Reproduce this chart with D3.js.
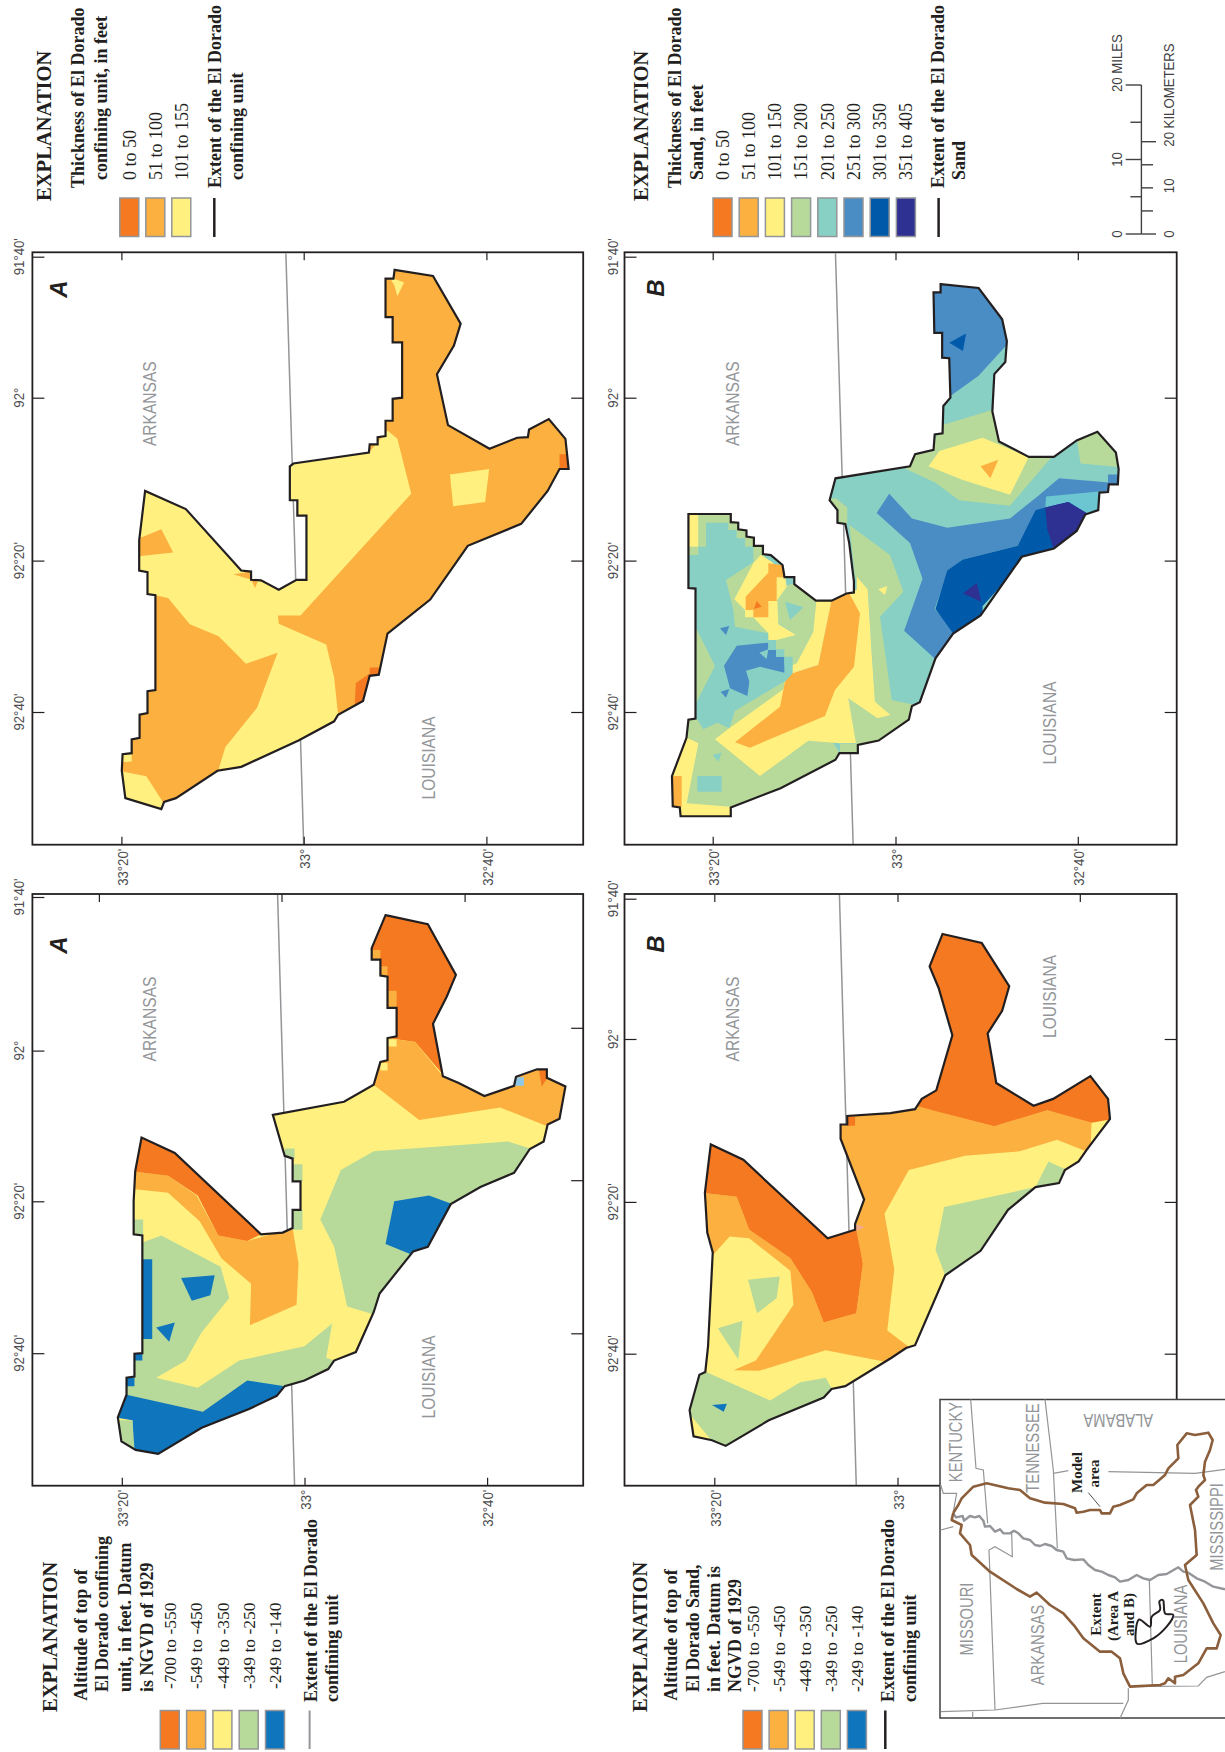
<!DOCTYPE html>
<html>
<head>
<meta charset="utf-8">
<title>El Dorado confining unit and sand</title>
<script src="https://cdn.jsdelivr.net/npm/d3@7"></script>
<style>
  body { margin: 0; background: #fff; }
  svg { display: block; }
  text { font-variant-ligatures: none; }
</style>
</head>
<body>
<div id="chart"></div>
<script>
/*Colour classes used by the legends and the maps*/
const cDarkOrange = "#f47920", cOrange = "#fbb040", cYellow = "#fff080", cGreen = "#b7da9b",
      cTeal = "#88cfc4", cBlue = "#4a8cc4", cNavy = "#005aa9", cIndigo = "#2e3092",
      cAltBlue = "#0f75bd", cCyan = "#6cc6d2", cSky = "#8dc8e8", cPink = "#f2ab8c";

/*Axis values, degrees*/
const latTicks = [33.3333, 33, 32.6667];
const lonTicks = [91.6667, 92, 92.3333, 92.6667];
const latLabels = ["33°20'", "33°", "32°40'"];
const lonLabels = ["91°40'", "92°", "92°20'", "92°40'"];

/*Legend text*/
const classesUnitThickness = ["0 to 50", "51 to 100", "101 to 155"];
const classesSandThickness = ["0 to 50", "51 to 100", "101 to 150", "151 to 200", "201 to 250", "251 to 300", "301 to 350", "351 to 405"];
const classesAltitude = ["-700 to -550", "-549 to -450", "-449 to -350", "-349 to -250", "-249 to -140"];
const milesTicks = [0, 5, 10, 15, 20];
const kmTicks = [0, 5, 10, 15, 20];

/*Map polygons, in sheet units (see sheets below)*/
const stateLineA = [[723,462],[768,1540]];
const unitOutline = [[998,492],[1095,503],[1165,590],[1148,630],[1105,682],[1133,775],[1238,818],[1308,798],[1335,797],[1338,783],[1388,764],[1430,800],[1438,855],[1415,855],[1385,895],[1318,955],[1183,995],[1088,1093],[980,1155],[958,1230],[935,1232],[918,1278],[855,1303],[845,1315],[755,1350],[610,1398],[550,1405],[445,1455],[415,1462],[408,1475],[317,1455],[308,1405],[310,1375],[333,1373],[333,1348],[353,1345],[353,1303],[373,1300],[373,1260],[393,1258],[393,1085],[373,1083],[373,1043],[352,1040],[352,985],[367,895],[470,928],[610,1040],[635,1042],[635,1057],[660,1058],[705,1075],[750,1057],[775,1057],[775,940],[752,940],[752,912],[733,912],[733,850],[742,845],[933,825],[935,810],[955,810],[955,797],[975,795],[975,767],[993,767],[993,727],[1017,725],[1017,624],[993,624],[993,578],[975,578],[975,508],[995,508]];
const unitYellowMain = [[367,895],[470,928],[610,1040],[660,1058],[705,1075],[750,1057],[775,1057],[775,940],[752,940],[752,912],[733,912],[733,850],[742,845],[933,825],[980,785],[1005,800],[1040,900],[760,1122],[703,1122],[705,1137],[825,1175],[845,1235],[855,1303],[845,1315],[755,1350],[610,1398],[553,1402],[570,1362],[650,1290],[702,1190],[622,1210],[553,1160],[480,1138],[425,1090],[393,1085],[373,1083],[373,1043],[340,1040],[340,1015],[438,1007],[408,965],[340,985]];
const unitOrangeNotch = [[590,1047],[635,1042],[635,1057],[652,1060],[645,1072],[635,1057]];
const unitYellowPatch = [[1138,865],[1237,855],[1227,915],[1146,923]];
const unitYellowCorner = [[300,1405],[370,1415],[412,1462],[408,1485],[310,1465]];
const unitYellowCell = [[305,1375],[333,1373],[333,1388],[305,1390]];
const unitYellowTip = [[985,505],[1022,515],[1005,540],[997,520]];
const unitThinCell1 = [[1415,828],[1445,828],[1445,860],[1415,860]];
const unitThinCell2 = [[900,1245],[935,1228],[925,1285],[897,1285]];
const unitThinCell3 = [[935,1217],[960,1217],[960,1232],[935,1232]];

const stateLineB = [[575,462],[620,1540]];
const sandOutline = [[843,518],[940,525],[1000,582],[1012,622],[1008,660],[980,682],[975,750],[992,805],[1068,833],[1132,833],[1190,803],[1243,787],[1290,825],[1297,855],[1295,883],[1272,883],[1270,897],[1248,898],[1245,930],[1212,938],[1190,968],[1132,1000],[1050,1015],[945,1122],[875,1155],[830,1200],[790,1280],[770,1287],[762,1312],[685,1350],[632,1358],[632,1373],[585,1373],[575,1385],[435,1437],[308,1472],[308,1488],[180,1488],[178,1472],[160,1470],[158,1415],[195,1345],[200,1312],[218,1310],[218,1073],[200,1072],[200,937],[308,937],[308,952],[327,953],[327,965],[348,967],[348,978],[367,980],[367,995],[390,995],[390,1010],[410,1012],[440,1030],[445,1052],[470,1052],[470,1065],[525,1095],[565,1095],[603,1082],[622,1080],[622,1060],[610,990],[600,955],[580,953],[580,930],[560,912],[575,872],[765,850],[778,828],[825,820],[828,792],[848,790],[850,740],[868,725],[865,653],[847,652],[847,607],[827,607],[825,533],[843,533]];
const sandBlueLobe = [[843,510],[945,515],[1010,575],[1020,622],[940,685],[868,722],[865,653],[847,652],[847,607],[827,607],[815,533]];
const sandNavyTip = [[865,625],[908,608],[900,640]];
const sandGreenBand = [[755,855],[770,820],[820,812],[848,775],[985,745],[1000,805],[1068,825],[1130,830],[1070,880],[1020,922],[890,912],[830,880]];
const sandYellowBand = [[812,850],[840,822],[950,798],[1068,833],[1020,902],[900,875]];
const sandOrangeTip = [[945,850],[990,838],[970,872]];
const sandGreenSouth = [[1190,800],[1243,780],[1300,825],[1305,852],[1200,845]];
const sandBlueCore = [[712,900],[770,945],[860,962],[1020,945],[1090,905],[1145,872],[1280,880],[1280,897],[1115,925],[1055,985],[1040,995],[900,1020],[860,1045],[828,1110],[885,1155],[835,1205],[750,1150],[797,1055],[765,990],[680,935]];
const sandCyan = [[1112,905],[1260,895],[1255,935],[1212,945],[1170,915],[1110,925]];
const sandBlueCell = [[1270,865],[1305,865],[1305,885],[1270,885]];
const sandNavyCore = [[1110,925],[1170,915],[1220,938],[1200,975],[1135,1010],[1055,1022],[950,1105],[950,1130],[880,1160],[830,1110],[860,1040],[900,1020],[1040,995],[1085,930]];
const sandIndigoSouth = [[1110,925],[1168,915],[1222,938],[1198,975],[1130,998],[1115,965]];
const sandIndigoTip = [[900,1082],[935,1063],[947,1097]];
const sandGreenCell = [[550,912],[575,908],[605,925],[605,955],[585,955],[575,930],[550,925]];
const sandGreenEast = [[628,75],[750,165],[790,275],[720,350],[755,600],[825,615],[815,665],[725,725],[650,745],[625,595],[712,655],[752,645],[705,605],[683,268],[645,230]];
const sandGreenLow = [[135,658],[172,658],[190,688],[232,668],[268,685],[285,632],[432,545],[458,545],[610,775],[290,935],[120,950],[90,920],[90,828],[135,705]];
const sandGreenNorth = [[432,258],[465,250],[535,295],[520,395],[470,490],[458,495],[433,495],[433,470],[408,470],[408,420],[468,405],[415,370],[410,305]];
const sandGreenStair = [[175,35],[285,35],[285,55],[305,55],[305,80],[330,80],[330,105],[355,105],[355,130],[375,130],[375,185],[340,185],[340,140],[315,140],[315,115],[290,115],[290,90],[265,90],[265,68],[198,68],[198,140],[175,140]];
const sandGreenStrip = [[165,378],[225,498],[165,615]];
const sandGreenRing = [[258,240],[335,190],[360,165],[390,190],[385,300],[340,350],[385,400],[285,380],[280,330]];
const sandGreenPixel = [[140,140],[175,140],[175,165],[140,165]];
const sandYellowBar = [[140,35],[175,35],[175,140],[140,140]];
const sandYellowWest = [[340,190],[362,165],[395,185],[435,225],[440,260],[410,303],[412,303],[415,372],[468,405],[410,420],[385,420],[385,400],[340,352],[315,352],[315,330],[283,298]];
const sandOrangeWest = [[385,190],[425,195],[440,232],[410,232],[410,303],[385,303],[385,352],[340,352],[340,330],[317,330],[317,290],[385,218]];
const sandRedTip = [[350,303],[365,320],[342,327]];
const sandTealTri = [[435,305],[490,322],[450,360]];
const sandBlueWest = [[290,437],[385,428],[385,450],[408,450],[408,470],[433,470],[433,518],[360,500],[318,512],[328,545],[322,588],[270,565],[252,497]];
const sandTealInBlue = [[358,458],[385,448],[380,477]];
const sandTealCell1 = [[385,425],[408,425],[408,450],[385,450]];
const sandTealCell2 = [[408,448],[433,448],[433,470],[408,470]];
const sandTealCell3 = [[433,470],[458,470],[458,495],[433,495]];
const sandBlueTri1 = [[240,385],[268,378],[258,405]];
const sandBlueTri2 = [[242,575],[268,567],[258,593]];
const sandYellowBig = [[575,290],[625,272],[650,270],[650,230],[683,268],[695,460],[705,605],[752,645],[712,655],[625,595],[648,730],[600,730],[505,722],[360,828],[225,718],[268,685],[430,568],[435,543],[458,543],[458,517],[535,495]];
const sandYellowStem = [[530,295],[575,295],[535,495],[458,517],[458,495],[470,490],[520,395]];
const sandOrangeBig = [[575,300],[625,275],[660,340],[642,500],[585,570],[555,648],[330,743],[285,727],[420,620],[435,545],[458,520],[535,495]];
const sandYellowTri = [[715,268],[742,258],[735,285]];
const sandGreenFoot = [[600,732],[655,732],[655,770],[600,770]];
const sandYellowEdge = [[135,710],[175,730],[140,910],[270,920],[280,960],[110,960],[110,930],[90,930],[90,828]];
const sandOrangeEdge = [[90,828],[125,828],[125,922],[90,922]];
const sandTealRect = [[172,828],[245,828],[245,875],[172,875]];
const sandTealSmall = [[218,765],[245,758],[235,785]];

const stateLineC = [[702,60],[745,1100]];
const altUnitOutline = [[975,97],[1082,113],[1153,202],[1130,240],[1095,288],[1120,380],[1160,392],[1225,415],[1300,397],[1305,381],[1358,368],[1383,368],[1383,383],[1430,398],[1415,455],[1385,465],[1375,495],[1340,508],[1300,550],[1215,575],[1140,605],[1082,680],[1045,688],[960,762],[945,795],[900,865],[845,880],[830,895],[770,915],[720,925],[700,942],[630,965],[510,998],[400,1044],[343,1037],[307,1022],[298,980],[320,940],[320,910],[340,908],[340,868],[360,867],[360,660],[338,658],[338,600],[342,547],[358,488],[442,515],[660,658],[715,655],[740,647],[740,615],[760,615],[760,565],[740,565],[740,525],[720,520],[690,448],[870,425],[945,395],[962,355],[980,352],[980,313],[1003,310],[1003,260],[980,260],[980,205],[962,203],[962,175],[940,175],[940,155]];
const altUnitDeepEast = [[975,85],[1090,100],[1165,202],[1140,240],[1105,288],[1130,385],[1050,320],[980,313],[1003,310],[1003,260],[980,260],[980,205],[962,203],[962,175],[940,175],[930,155]];
const altUnitMidEast = [[980,313],[1050,320],[1120,380],[1225,405],[1300,385],[1305,370],[1358,358],[1390,358],[1390,383],[1440,398],[1425,465],[1390,470],[1265,435],[1060,457],[945,395],[955,350],[980,345]];
const altUnitCell1 = [[940,158],[962,158],[962,175],[940,175]];
const altUnitCell2 = [[962,187],[980,187],[980,203],[962,203]];
const altUnitCell3 = [[980,230],[1003,230],[1003,260],[980,260]];
const altUnitCell4 = [[980,315],[1003,315],[1003,328],[980,328]];
const altUnitCell5 = [[962,357],[980,357],[980,370],[962,370]];
const altUnitSkyCell = [[1302,382],[1325,382],[1325,397],[1302,397]];
const altUnitDeepTip = [[1362,365],[1385,365],[1385,383],[1370,398]];
const altUnitDeepNorth = [[358,478],[442,505],[670,655],[625,670],[552,660],[500,590],[425,555],[330,547]];
const altUnitMidNorth = [[330,547],[425,555],[497,590],[552,660],[625,670],[740,647],[755,710],[750,782],[632,818],[635,745],[560,700],[505,635],[425,585],[330,578]];
const altUnitGreenWest = [[362,672],[408,660],[558,715],[580,770],[510,830],[470,880],[395,910],[500,928],[605,880],[770,855],[840,815],[825,875],[845,880],[830,905],[770,925],[720,935],[625,915],[513,970],[310,940],[310,900],[335,900],[335,860],[355,860]];
const altUnitGreenCell1 = [[335,632],[362,632],[362,660],[335,660]];
const altUnitGreenCell2 = [[720,507],[745,507],[745,525],[720,525]];
const altUnitGreenCell3 = [[740,535],[765,535],[765,565],[740,565]];
const altUnitGreenCell4 = [[740,615],[765,615],[765,650],[740,650]];
const altUnitShallowSouth = [[320,940],[513,970],[625,915],[720,925],[710,950],[640,975],[510,1010],[400,1055],[335,1050],[335,985],[290,980]];
const altUnitGreenCorner = [[295,985],[335,985],[341,1045],[300,1030]];
const altUnitShallowBar = [[360,702],[385,702],[385,842],[360,842]];
const altUnitShallowCell1 = [[335,867],[360,867],[360,880],[335,880]];
const altUnitShallowCell2 = [[315,910],[340,910],[340,925],[315,925]];
const altUnitShallowTri1 = [[458,735],[543,730],[532,765],[485,775]];
const altUnitShallowTri2 = [[395,822],[442,813],[428,847]];
const altUnitGreenEast = [[862,545],[945,512],[1285,495],[1345,508],[1305,555],[1220,585],[1145,610],[1090,690],[1050,695],[970,770],[950,800],[878,785],[845,680],[810,632]];
const altUnitShallowEast = [[997,600],[1085,590],[1145,605],[1090,685],[1045,695],[975,675]];

const stateLineD = [[585,60],[628,1100]];
const altSandOutline = [[848,130],[948,146],[1018,222],[1000,265],[963,305],[985,392],[1080,432],[1130,420],[1225,380],[1270,420],[1275,455],[1215,510],[1195,530],[1160,545],[1145,568],[1085,575],[1015,615],[945,687],[855,730],[778,853],[755,858],[718,875],[600,925],[565,930],[545,945],[405,985],[295,1030],[260,1020],[213,1013],[203,967],[228,905],[243,900],[250,855],[262,690],[248,655],[242,585],[257,500],[340,527],[555,665],[625,650],[625,640],[648,597],[588,490],[588,465],[605,465],[605,450],[715,445],[778,438],[795,420],[832,405],[873,308],[838,225],[815,187]];
const altSandMid = [[235,585],[323,592],[355,650],[460,700],[515,760],[545,813],[628,797],[645,710],[625,650],[640,610],[580,490],[600,440],[778,428],[860,447],[980,468],[1115,440],[1228,462],[1225,515],[1140,492],[1045,512],[905,520],[762,545],[700,622],[725,720],[707,827],[770,860],[725,885],[550,862],[380,898],[315,897],[372,880],[468,782],[460,722],[355,665],[305,662],[262,695],[235,650]];
const altSandDeepEast = [[848,120],[955,136],[1030,222],[1010,265],[973,305],[995,385],[1080,420],[1130,410],[1225,370],[1280,420],[1285,455],[1228,462],[1115,440],[980,468],[860,447],[770,430],[790,415],[825,400],[865,308],[830,225],[805,187]];
const altSandDeepNorth = [[257,490],[345,517],[555,655],[625,640],[645,710],[628,797],[545,813],[515,760],[460,700],[355,650],[323,592],[235,585]];
const altSandDeepCell = [[605,452],[625,452],[625,467],[605,467]];
const altSandPinkTip = [[625,640],[650,645],[628,652]];
const altSandGreenEast = [[852,610],[1085,575],[1025,620],[955,695],[860,740],[830,685]];
const altSandGreenTip = [[1118,530],[1165,545],[1150,575],[1085,575]];
const altSandGreenTri1 = [[352,738],[433,732],[425,770],[375,797]];
const altSandGreenTri2 = [[275,823],[338,810],[327,878]];
const altSandGreenSouth = [[228,895],[408,950],[485,918],[550,910],[570,935],[550,955],[410,995],[295,1040],[260,1022],[195,967],[215,900]];
const altSandBlueTip = [[260,958],[298,956],[290,970]];

/*Location map*/
const insetEmbayment = [[100,368],[115,345],[125,325],[160,290],[200,280],[265,295],[300,300],[330,325],[375,338],[430,342],[465,355],[470,368],[490,365],[510,360],[540,360],[545,370],[570,370],[580,350],[600,345],[640,328],[650,310],[680,285],[700,285],[735,255],[745,235],[775,205],[772,165],[800,130],[825,135],[865,128],[878,150],[870,180],[855,215],[850,255],[855,270],[835,290],[828,300],[835,320],[810,345],[825,420],[830,495],[795,525],[805,570],[850,640],[880,700],[902,735],[890,775],[860,775],[835,820],[790,855],[765,860],[765,880],[745,865],[735,880],[720,885],[630,890],[610,850],[600,805],[575,785],[540,785],[490,745],[465,710],[430,670],[390,645],[350,608],[330,620],[290,597],[210,545],[155,495],[150,465],[120,430],[125,405],[95,390],[100,368]];
const insetRiver = [[100,370],[108,382],[128,378],[132,392],[150,378],[165,382],[178,378],[190,392],[195,410],[210,408],[225,425],[240,418],[250,430],[270,430],[282,422],[295,430],[310,445],[330,450],[345,465],[360,468],[375,462],[395,468],[410,480],[430,485],[440,505],[462,510],[490,508],[505,525],[525,540],[545,545],[565,555],[585,562],[600,575],[625,570],[650,555],[670,565],[690,570],[715,555],[740,552],[775,532],[790,545],[805,548],[830,565],[855,575],[880,590],[915,598]];
const insetBorders = [
  [[152,28],[168,235],[190,240],[203,400]],
  [[375,28],[400,240],[412,475]],
  [[400,250],[445,242]],
  [[565,245],[825,250],[915,238]],
  [[62,285],[70,310],[110,310],[100,365]],
  [[62,420],[100,410]],
  [[275,428],[277,500],[225,470],[207,480],[225,960]],
  [[62,965],[225,960],[368,940],[610,940]],
  [[158,965],[158,985]],
  [[625,895],[625,930],[600,985]],
  [[688,570],[697,888]],
  [[630,890],[835,888],[860,862],[915,845]]
];
const insetExtent = [[650,760],[655,690],[690,710],[695,680],[720,660],[718,635],[730,632],[735,670],[760,675],[740,710],[700,745]];
const insetPointer = [[505,308],[540,350]];

const chartWidth = 1225;
const chartHeight = 1752;
const serif = "'Liberation Serif', serif";
const sans = "'Liberation Sans', sans-serif";

const svg = d3.select("#chart")
  .append("svg")
  .attr("width", chartWidth)
  .attr("height", chartHeight);

svg.append("rect").attr("width", chartWidth).attr("height", chartHeight).attr("fill", "#fff");

/*Sheet units to page pixels*/
function sheet(ox, kx, oy, ky) {
  const x = d3.scaleLinear().domain([0, 100 * kx]).range([ox, ox + 100]);
  const y = d3.scaleLinear().domain([0, 100 * ky]).range([oy, oy + 100]);
  return d3.line().x(d => x(d[0])).y(d => y(d[1]));
}
const sheetA = sheet(0, 2.529, 0, 1.823);
const sheetB = sheet(610, 2.55, 0, 1.823);
const sheetBFine = sheet(640, 3, 500, 3);
const sheetC = sheet(0, 2.529, 860, 1.758);
const sheetD = sheet(610, 2.55, 860, 1.758);
const sheetInset = sheet(920, 3, 1390, 3);

/*All rotated text goes through this, the figure is turned on its side*/
function label(x, y, text, o) {
  o = o || {};
  const t = svg.append("text")
    .attr("transform", `translate(${x},${y}) rotate(${o.rotate === undefined ? -90 : o.rotate}) scale(${o.sx || 1},1)`)
    .attr("dy", ".35em")
    .attr("text-anchor", o.anchor || "start")
    .attr("font-family", o.family || serif)
    .attr("font-size", o.size || 18)
    .attr("font-weight", o.weight || "normal")
    .attr("font-style", o.style || "normal")
    .attr("fill", o.fill || "#231f20")
    .text(text);
  if (o.len) t.attr("textLength", o.len).attr("lengthAdjust", "spacing");
  return t;
}
const stateLabel = (x, y, text) => label(x, y, text, {family: sans, size: 19, sx: 0.82, fill: "#939598", anchor: "middle"});

let clipCount = 0;
function drawMap(baseColor, outline, line, stateLine, layers) {
  const id = "clip" + (clipCount++);
  svg.append("clipPath").attr("id", id).append("path").attr("d", line(outline) + "Z");
  svg.append("path").attr("d", line(stateLine)).attr("stroke", "#939598").attr("stroke-width", 1.5).attr("fill", "none");
  const g = svg.append("g").attr("clip-path", `url(#${id})`);
  g.append("path").attr("d", line(outline) + "Z").attr("fill", baseColor);
  g.selectAll("path.layer")
    .data(layers)
    .enter()
    .append("path")
    .attr("class", "layer")
    .attr("d", d => (d[2] || line)(d[1]) + "Z")
    .attr("fill", d => d[0]);
  svg.append("path").attr("d", line(outline) + "Z")
    .attr("fill", "none").attr("stroke", "#231f20").attr("stroke-width", 2.2).attr("stroke-linejoin", "miter");
}

function drawFrame(f) {
  const lat1 = d3.scaleLinear().domain(latTicks).range(f.latTop);
  const lat2 = d3.scaleLinear().domain(latTicks).range(f.latBottom);
  const lon1 = d3.scaleLinear().domain(lonTicks).range(f.lonLeft);
  const lon2 = d3.scaleLinear().domain(lonTicks.slice(f.rightFrom)).range(f.lonRight);
  const none = d => "";
  const axes = [
    [d3.axisBottom(lat1).tickValues(latTicks).tickSize(8), 0, f.y0],
    [d3.axisTop(lat2).tickValues(latTicks).tickSize(8), 0, f.y1],
    [d3.axisRight(lon1).tickValues(lonTicks).tickSize(12), f.x0, 0],
    [d3.axisLeft(lon2).tickValues(lonTicks.slice(f.rightFrom)).tickSize(12), f.x1, 0]
  ];
  axes.forEach(a => {
    const g = svg.append("g").attr("transform", `translate(${a[1]},${a[2]})`)
      .call(a[0].tickFormat(none));
    g.select(".domain").remove();
    g.selectAll("line").attr("stroke", "#231f20").attr("stroke-width", 1.2);
  });
  svg.append("rect")
    .attr("x", f.x0).attr("y", f.y0).attr("width", f.x1 - f.x0).attr("height", f.y1 - f.y0)
    .attr("fill", "none").attr("stroke", "#231f20").attr("stroke-width", 1.8);
  latTicks.forEach((v, i) => label(lat2(v) + 1, f.y1 + 4, latLabels[i],
    {family: sans, size: 15, sx: 0.88, fill: "#4d4d4f", anchor: "end"}));
  lonTicks.forEach((v, i) => label(f.labelX, lon1(v), lonLabels[i],
    {family: sans, size: 15, sx: 0.88, fill: "#4d4d4f", anchor: "middle"}));
}

function swatches(xs, yTop, colors) {
  svg.selectAll(null)
    .data(colors)
    .enter()
    .append("rect")
    .attr("x", (d, i) => xs(i))
    .attr("y", yTop)
    .attr("width", 19)
    .attr("height", 38.5)
    .attr("fill", d => d)
    .attr("stroke", "#939598")
    .attr("stroke-width", 1.5);
}

/*Panel frames, left column and right column, top and bottom*/
drawMap(cOrange, unitOutline, sheetA, stateLineA, [
  [cYellow, unitYellowMain], [cOrange, unitOrangeNotch], [cYellow, unitYellowPatch],
  [cYellow, unitYellowCorner], [cYellow, unitYellowCell], [cYellow, unitYellowTip],
  [cDarkOrange, unitThinCell1], [cDarkOrange, unitThinCell2], [cDarkOrange, unitThinCell3]
]);
drawFrame({x0: 32.4, x1: 583.2, y0: 252.3, y1: 844.7, labelX: 18.6,
  latTop: [121.4, 303.7, 486.4], latBottom: [121.4, 303.7, 486.4],
  lonLeft: [256.7, 397.7, 560.6, 712], lonRight: [397.7, 560.6, 712], rightFrom: 1});

drawMap(cTeal, sandOutline, sheetB, stateLineB, [
  [cBlue, sandBlueLobe], [cNavy, sandNavyTip], [cGreen, sandGreenBand], [cYellow, sandYellowBand],
  [cOrange, sandOrangeTip], [cGreen, sandGreenSouth], [cBlue, sandBlueCore], [cCyan, sandCyan],
  [cBlue, sandBlueCell], [cNavy, sandNavyCore], [cIndigo, sandIndigoSouth], [cIndigo, sandIndigoTip],
  [cGreen, sandGreenCell],
  [cGreen, sandGreenEast, sheetBFine], [cGreen, sandGreenLow, sheetBFine], [cGreen, sandGreenNorth, sheetBFine],
  [cGreen, sandGreenStair, sheetBFine], [cGreen, sandGreenStrip, sheetBFine], [cGreen, sandGreenRing, sheetBFine],
  [cGreen, sandGreenPixel, sheetBFine], [cYellow, sandYellowBar, sheetBFine], [cYellow, sandYellowWest, sheetBFine],
  [cOrange, sandOrangeWest, sheetBFine], [cDarkOrange, sandRedTip, sheetBFine], [cTeal, sandTealTri, sheetBFine],
  [cBlue, sandBlueWest, sheetBFine], [cTeal, sandTealInBlue, sheetBFine], [cTeal, sandTealCell1, sheetBFine],
  [cTeal, sandTealCell2, sheetBFine], [cTeal, sandTealCell3, sheetBFine], [cBlue, sandBlueTri1, sheetBFine],
  [cBlue, sandBlueTri2, sheetBFine], [cYellow, sandYellowBig, sheetBFine], [cYellow, sandYellowStem, sheetBFine],
  [cOrange, sandOrangeBig, sheetBFine], [cYellow, sandYellowTri, sheetBFine], [cGreen, sandGreenFoot, sheetBFine],
  [cYellow, sandYellowEdge, sheetBFine], [cOrange, sandOrangeEdge, sheetBFine], [cTeal, sandTealRect, sheetBFine],
  [cTeal, sandTealSmall, sheetBFine]
]);
drawFrame({x0: 624.5, x1: 1176.7, y0: 252.3, y1: 844.7, labelX: 613,
  latTop: [712.7, 895.5, 1077.8], latBottom: [712.7, 895.5, 1077.8],
  lonLeft: [256.7, 397.7, 560.6, 712], lonRight: [397.7, 560.6, 712], rightFrom: 1});

drawMap(cYellow, altUnitOutline, sheetC, stateLineC, [
  [cDarkOrange, altUnitDeepEast], [cOrange, altUnitMidEast], [cOrange, altUnitCell1], [cOrange, altUnitCell2],
  [cOrange, altUnitCell3], [cYellow, altUnitCell4], [cYellow, altUnitCell5], [cSky, altUnitSkyCell],
  [cDarkOrange, altUnitDeepTip], [cOrange, altUnitMidNorth], [cDarkOrange, altUnitDeepNorth],
  [cGreen, altUnitGreenWest], [cGreen, altUnitGreenCell1], [cGreen, altUnitGreenCell2], [cGreen, altUnitGreenCell3],
  [cGreen, altUnitGreenCell4], [cAltBlue, altUnitShallowSouth], [cGreen, altUnitGreenCorner], [cAltBlue, altUnitShallowBar],
  [cAltBlue, altUnitShallowCell1], [cAltBlue, altUnitShallowCell2], [cAltBlue, altUnitShallowTri1], [cAltBlue, altUnitShallowTri2],
  [cGreen, altUnitGreenEast], [cAltBlue, altUnitShallowEast]
]);
drawFrame({x0: 32.4, x1: 583.2, y0: 894, y1: 1485.7, labelX: 18.6,
  latTop: [98.9, 281.5, 464.6], latBottom: [121.8, 304.5, 487.1],
  lonLeft: [897, 1050.6, 1201.3, 1353.2], lonRight: [1027.8, 1180.2, 1333.3], rightFrom: 1});

drawMap(cYellow, altSandOutline, sheetD, stateLineD, [
  [cOrange, altSandMid], [cDarkOrange, altSandDeepEast], [cDarkOrange, altSandDeepNorth], [cDarkOrange, altSandDeepCell],
  [cPink, altSandPinkTip], [cGreen, altSandGreenEast], [cGreen, altSandGreenTip], [cGreen, altSandGreenTri1],
  [cGreen, altSandGreenTri2], [cGreen, altSandGreenSouth], [cAltBlue, altSandBlueTip]
]);
drawFrame({x0: 624.5, x1: 1176.7, y0: 894, y1: 1485.7, labelX: 613,
  latTop: [714.3, 897.5, 1079.8], latBottom: [714.3, 897.5, 1079.8],
  lonLeft: [898.7, 1039, 1201.9, 1353.7], lonRight: [1039, 1201.9, 1353.7], rightFrom: 1});

/*Panel letters and state names*/
const letterStyle = {family: sans, size: 24, weight: "bold", style: "italic", anchor: "middle"};
label(58.5, 289, "A", letterStyle);
label(58.5, 945, "A", letterStyle);
label(656, 288, "B", letterStyle);
label(656, 944, "B", letterStyle);

stateLabel(149.5, 403.7, "ARKANSAS");
stateLabel(428.2, 758, "LOUISIANA");
stateLabel(149.5, 1019, "ARKANSAS");
stateLabel(428.2, 1377, "LOUISIANA");
stateLabel(732.4, 403.7, "ARKANSAS");
stateLabel(1049.2, 723, "LOUISIANA");
stateLabel(732.4, 1019, "ARKANSAS");
stateLabel(1049.2, 996.5, "LOUISIANA");

/*Top left legend*/
const headStyle = {weight: "bold", size: 21, sx: 0.98};
label(44, 201, "EXPLANATION", headStyle);
label(78, 188, "Thickness of El Dorado", {weight: "bold"});
label(101, 180, "confining unit, in feet", {weight: "bold", len: 164});
const unitClassX = d3.scaleLinear().domain([0, 1]).range([119.8, 145.8]);
swatches(unitClassX, 198, [cDarkOrange, cOrange, cYellow]);
classesUnitThickness.forEach((t, i) => label(unitClassX(i) + 9.5, 180, t));
svg.append("line").attr("x1", 214.3).attr("x2", 214.3).attr("y1", 198).attr("y2", 237).attr("stroke", "#231f20").attr("stroke-width", 2.5);
label(215, 188, "Extent of the El Dorado", {weight: "bold"});
label(237, 180, "confining unit", {weight: "bold"});

/*Top right legend*/
label(640.6, 201, "EXPLANATION", headStyle);
label(674.7, 188, "Thickness of El Dorado", {weight: "bold"});
label(696.3, 180, "Sand, in feet", {weight: "bold"});
const sandClassX = d3.scaleLinear().domain([0, 1]).range([713, 739.2]);
swatches(sandClassX, 198, [cDarkOrange, cOrange, cYellow, cGreen, cTeal, cBlue, cNavy, cIndigo]);
classesSandThickness.forEach((t, i) => label(sandClassX(i) + 9.5, 180, t));
svg.append("line").attr("x1", 938.6).attr("x2", 938.6).attr("y1", 198).attr("y2", 237).attr("stroke", "#231f20").attr("stroke-width", 2.5);
label(937.5, 188, "Extent of the El Dorado", {weight: "bold"});
label(958.2, 180, "Sand", {weight: "bold"});

/*Scale bar*/
const milesY = d3.scaleLinear().domain([0, 20]).range([234, 85]);
const kmY = d3.scaleLinear().domain([0, 20]).range([234, 141.7]);
svg.append("line").attr("x1", 1141.4).attr("x2", 1141.4).attr("y1", milesY(20)).attr("y2", milesY(0)).attr("stroke", "#414042").attr("stroke-width", 1.4);
svg.selectAll(null).data(milesTicks).enter().append("line")
  .attr("x1", d => d % 10 === 0 ? 1125.7 : 1130.4).attr("x2", 1141.4)
  .attr("y1", d => milesY(d)).attr("y2", d => milesY(d)).attr("stroke", "#414042").attr("stroke-width", 1.4);
svg.selectAll(null).data(kmTicks).enter().append("line")
  .attr("x1", 1141.4).attr("x2", d => d === 0 || d === 20 ? 1156 : 1153)
  .attr("y1", d => kmY(d)).attr("y2", d => kmY(d)).attr("stroke", "#414042").attr("stroke-width", 1.4);
const scaleText = {family: sans, size: 15, sx: 0.88, fill: "#414042"};
label(1116.7, milesY(0), "0", Object.assign({}, scaleText, {anchor: "middle"}));
label(1116.7, milesY(10), "10", Object.assign({}, scaleText, {anchor: "middle"}));
label(1116.7, milesY(20) + 7, "20 MILES", scaleText);
label(1168.8, kmY(0), "0", Object.assign({}, scaleText, {anchor: "middle"}));
label(1168.8, kmY(10) - 2, "10", Object.assign({}, scaleText, {anchor: "middle"}));
label(1168.8, kmY(20) + 5, "20 KILOMETERS", scaleText);

/*Bottom left legend*/
label(49.4, 1712, "EXPLANATION", headStyle);
label(81, 1700.7, "Altitude of top of", {weight: "bold"});
label(102, 1692, "El Dorado confining", {weight: "bold"});
label(124.6, 1692, "unit, in feet. Datum", {weight: "bold"});
label(146.3, 1692, "is NGVD of 1929", {weight: "bold"});
const altClassX = d3.scaleLinear().domain([0, 1]).range([160.3, 186.6]);
const altColors = [cDarkOrange, cOrange, cYellow, cGreen, cAltBlue];
swatches(altClassX, 1710.5, altColors);
classesAltitude.forEach((t, i) => label(altClassX(i) + 9.5, 1689, t, {size: 17.5}));
svg.append("line").attr("x1", 309.6).attr("x2", 309.6).attr("y1", 1710.5).attr("y2", 1749).attr("stroke", "#939598").attr("stroke-width", 2);
label(310.4, 1702, "Extent of the El Dorado", {weight: "bold"});
label(332, 1702, "confining unit", {weight: "bold"});

/*Bottom right legend*/
label(639.4, 1712, "EXPLANATION", headStyle);
label(670.8, 1700.7, "Altitude of top of", {weight: "bold"});
label(692.4, 1692, "El Dorado Sand,", {weight: "bold"});
label(713.9, 1692, "in feet. Datum is", {weight: "bold"});
label(734.7, 1692, "NGVD of 1929", {weight: "bold"});
const altSandClassX = d3.scaleLinear().domain([0, 1]).range([743, 769.1]);
swatches(altSandClassX, 1710.5, altColors);
classesAltitude.forEach((t, i) => label(altSandClassX(i) + 9.5, 1692, t, {size: 17.5}));
svg.append("line").attr("x1", 885.3).attr("x2", 885.3).attr("y1", 1710.5).attr("y2", 1749).attr("stroke", "#231f20").attr("stroke-width", 2.5);
label(887.6, 1702, "Extent of the El Dorado", {weight: "bold"});
label(910, 1702, "confining unit", {weight: "bold"});

/*Location map on top of the lower right panel*/
svg.append("rect").attr("x", 940).attr("y", 1399.5).attr("width", 300).attr("height", 318.5)
  .attr("fill", "#fff").attr("stroke", "#414042").attr("stroke-width", 1.5);
svg.selectAll(null).data(insetBorders).enter().append("path")
  .attr("d", d => sheetInset(d)).attr("fill", "none").attr("stroke", "#939598").attr("stroke-width", 1.2);
svg.append("path").attr("d", sheetInset(insetRiver)).attr("fill", "none").attr("stroke", "#939598").attr("stroke-width", 2.4).attr("stroke-linejoin", "round");
svg.append("path").attr("d", sheetInset(insetEmbayment)).attr("fill", "none").attr("stroke", "#8b5e3c").attr("stroke-width", 2.6).attr("stroke-linejoin", "round");
svg.append("path").attr("d", d3.line().curve(d3.curveCardinalClosed).x(sheetInset.x()).y(sheetInset.y())(insetExtent)).attr("fill", "none").attr("stroke", "#231f20").attr("stroke-width", 2);
svg.append("path").attr("d", sheetInset(insetPointer)).attr("fill", "none").attr("stroke", "#231f20").attr("stroke-width", 0.8);

const insetState = {family: sans, size: 18, sx: 0.82, fill: "#939598", anchor: "middle"};
label(966.7, 1619, "MISSOURI", insetState);
label(1037.3, 1645, "ARKANSAS", insetState);
label(1180.7, 1624, "LOUISIANA", insetState);
label(1032.3, 1448, "TENNESSEE", insetState);
label(956, 1442, "KENTUCKY", insetState);
label(1216.7, 1527, "MISSISSIPPI", insetState);
label(1118.3, 1420.7, "ALABAMA", Object.assign({}, insetState, {rotate: 180}));
const insetNote = {size: 15, weight: "bold", anchor: "middle"};
label(1076.7, 1472.5, "Model", insetNote);
label(1094, 1473.5, "area", insetNote);
label(1096, 1614.5, "Extent", insetNote);
label(1112.7, 1616, "(Area A", insetNote);
label(1128.3, 1614.5, "and B)", insetNote);
</script>
</body>
</html>
